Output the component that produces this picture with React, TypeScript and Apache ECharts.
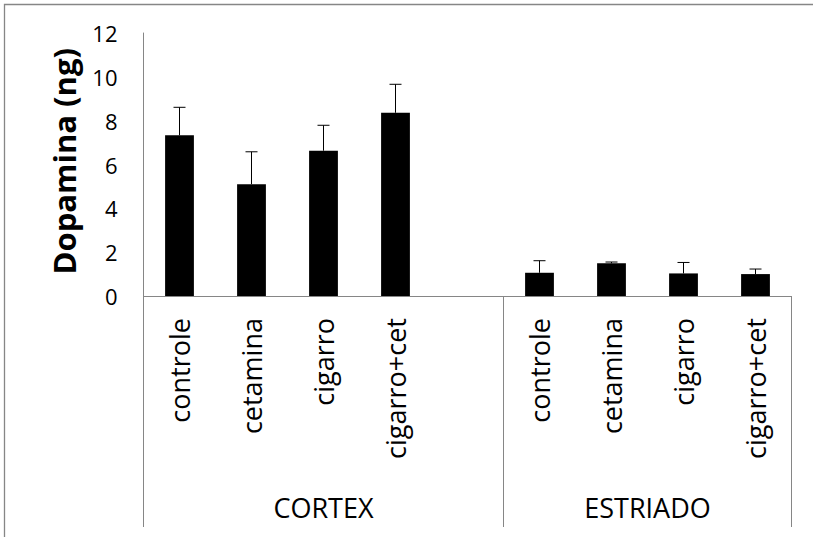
import React, { useEffect, useRef } from "react";
import * as echarts from "echarts";

const categories = ["controle", "cetamina", "cigarro", "cigarro+cet", "", "controle", "cetamina", "cigarro", "cigarro+cet"];
const means = [7.33, 5.1, 6.63, 8.36, null, 1.06, 1.49, 1.03, 1.0];
const errors = [1.28, 1.48, 1.16, 1.3, null, 0.55, 0.06, 0.5, 0.23];
const groups = [
  { name: "CORTEX", from: 0, to: 5 },
  { name: "ESTRIADO", from: 5, to: 9 },
];
const yTicks = { min: 0, max: 12, interval: 2 };
const yTitle = "Dopamina (ng)";

const GRAY = "#868686";
const FONT = "'Open Sans'";

export default function App() {
  const ref = useRef<HTMLDivElement>(null);
  useEffect(() => {
    if (!ref.current) return;
    const chart = echarts.init(ref.current, null, { renderer: "svg" });
    const errData: any[] = [];
    means.forEach((m, i) => {
      if (m !== null && errors[i] !== null) errData.push([i, m, errors[i]]);
    });
    chart.setOption({
      animation: false,
      backgroundColor: "#ffffff",
      grid: { left: 143.5, top: 33, width: 648, height: 263 },
      xAxis: {
        type: "category",
        data: categories,
        axisLine: { show: true, lineStyle: { color: GRAY, width: 1 } },
        axisTick: { show: false },
        axisLabel: {
          rotate: 90,
          margin: 22,
          interval: 0,
          fontFamily: FONT,
          fontSize: 27,
          color: "#000",
        },
        splitLine: { show: false },
      },
      yAxis: {
        type: "value",
        min: yTicks.min,
        max: yTicks.max,
        interval: yTicks.interval,
        axisLine: { show: true, lineStyle: { color: GRAY, width: 1 } },
        axisTick: { show: false },
        splitLine: { show: false },
        axisLabel: { margin: 26, fontFamily: FONT, fontSize: 22, color: "#000" },
      },
      series: [
        {
          type: "bar",
          data: means.map((m) => (m === null ? "-" : m)),
          barWidth: "40%",
          itemStyle: { color: "#000" },
          z: 2,
        },
        {
          type: "custom",
          data: errData,
          z: 3,
          renderItem: (params: any, api: any) => {
            const x = api.value(0);
            const v = api.value(1);
            const e = api.value(2);
            const p0 = api.coord([x, v]);
            const p1 = api.coord([x, v + e]);
            const style = { stroke: "#000", lineWidth: 1 };
            return {
              type: "group",
              children: [
                { type: "line", shape: { x1: p0[0], y1: p0[1], x2: p1[0], y2: p1[1] }, style },
                { type: "line", shape: { x1: p1[0] - 6, y1: p1[1], x2: p1[0] + 6, y2: p1[1] }, style },
              ],
            };
          },
        },
      ],
    });

    const c0 = chart.convertToPixel({ xAxisIndex: 0 }, 0) as number;
    const c1 = chart.convertToPixel({ xAxisIndex: 0 }, 1) as number;
    const bw = c1 - c0;
    const b = (i: number) => c0 - bw / 2 + i * bw;
    const y0 = chart.convertToPixel({ yAxisIndex: 0 }, yTicks.min) as number;
    const yTop = chart.convertToPixel({ yAxisIndex: 0 }, yTicks.max) as number;
    const bounds = new Set<number>();
    groups.forEach((g) => {
      bounds.add(g.from);
      bounds.add(g.to);
    });
    const graphic: any[] = [];
    bounds.forEach((i) => {
      graphic.push({
        type: "line",
        shape: { x1: b(i), y1: y0, x2: b(i), y2: y0 + 231 },
        style: { stroke: GRAY, lineWidth: 1 },
      });
    });
    groups.forEach((g) => {
      graphic.push({
        type: "text",
        x: (b(g.from) + b(g.to)) / 2,
        y: y0 + 211,
        style: {
          text: g.name,
          fontFamily: FONT,
          fontSize: 27,
          fill: "#000",
          align: "center",
          verticalAlign: "middle",
        },
      });
    });
    graphic.push({
      type: "text",
      x: b(0) - 80,
      y: (y0 + yTop) / 2 + 110,
      rotation: Math.PI / 2,
      style: {
        text: yTitle,
        fontFamily: FONT,
        fontSize: 31,
        fontWeight: "bold",
        fill: "#000",
        align: "left",
        verticalAlign: "middle",
      },
    });
    graphic.push({
      type: "rect",
      shape: { x: 4.5, y: 4.5, width: 900, height: 900 },
      style: { fill: "none", stroke: GRAY, lineWidth: 1.3 },
    });
    chart.setOption({ graphic });

    return () => chart.dispose();
  }, []);
  return (
    <div
      ref={ref}
      style={{ position: "fixed", left: 0, top: 0, width: 813, height: 537 }}
    />
  );
}
